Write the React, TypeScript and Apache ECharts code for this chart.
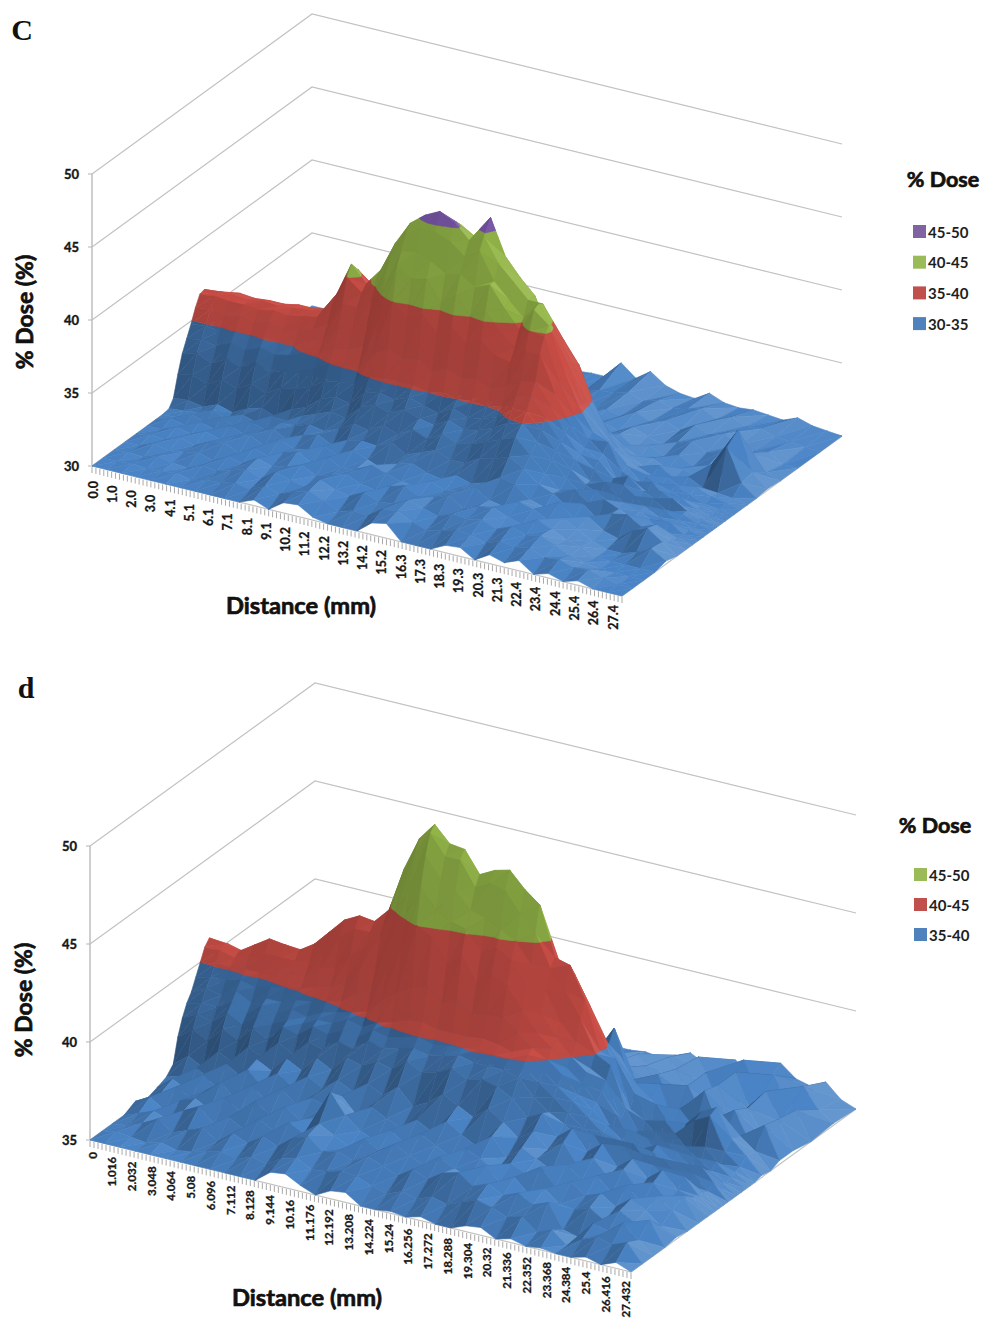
import React, { useEffect, useRef } from "react";
import * as echarts from "echarts";

// Values are tenths of % dose above the floor of each panel. Rows run from the front edge to the back wall.
const depthsC = [0,.05,.1,.15,.2,.25,.29,.32,.35,.37,.39,.41,.43,.45,.47,.49,.51,.54,.57,.61,.66,.72,.8,.9,1];
const surfaceC = [
[0,0,0,0,0,0,0,0,0,0,0,4,0,7,8,2,0,0,0,8,10,0,0,0,5,6,0,6,3,7,0,3,0,3,0,0,0],
[0,0,1,0,1,2,0,2,3,5,3,8,5,9,12,8,3,6,5,12,13,8,5,7,10,9,6,10,8,10,6,7,4,5,2,0,0],
[0,1,0,3,1,0,4,3,6,9,5,12,9,7,14,10,8,13,9,10,15,12,9,13,12,14,10,14,11,13,9,4,2,0,0,0,0],
[0,0,4,1,3,5,2,7,5,11,8,10,14,9,12,15,11,9,14,17,12,14,18,11,15,17,13,10,16,12,7,5,0,0,0,0,0],
[0,2,1,5,2,7,9,4,10,7,12,15,9,16,11,13,18,15,12,11,17,13,16,20,14,12,18,15,10,14,9,3,0,0,3,8,2],
[0,0,4,2,6,3,8,11,6,13,9,11,16,12,18,14,10,16,19,15,13,18,15,18,24,22,14,11,17,8,12,5,2,10,14,7,0],
[0,3,1,6,3,8,5,9,13,8,14,17,12,18,20,19,24,18,22,26,22,22,28,30,34,28,20,16,9,14,6,12,14,8,12,4,0],
[0,1,5,2,8,4,10,7,14,15,18,16,20,26,24,30,26,32,28,34,30,32,36,40,44,34,24,15,18,11,16,12,8,10,3,2,0],
[1,2,3,7,3,9,6,13,12,18,22,26,24,34,38,35,40,36,34,40,36,38,42,48,50,40,30,20,12,17,9,13,10,4,7,1,0],
[6,7,5,9,6,11,14,10,18,22,30,34,32,42,44,42,46,43,40,46,42,44,47,55,56,46,34,24,16,11,14,7,11,6,3,2,0],
[20,22,18,24,20,26,22,28,30,34,40,42,44,50,52,52,52,50,52,50,51,50,52,62,64,52,38,28,16,18,10,13,6,9,4,1,0],
[32,35,30,36,33,38,34,38,40,44,50,52,52,64,70,66,68,62,66,62,64,60,64,70,72,58,42,30,22,12,16,9,12,5,6,2,0],
[40,42,40,44,42,46,44,46,50,52,58,60,64,84,100,92,96,86,92,84,88,80,78,88,88,64,46,32,26,16,20,12,8,12,6,3,0],
[48,49,48,50,49,51,50,50,56,60,70,72,78,102,122,116,118,104,112,100,106,94,86,100,98,70,50,36,28,12,14,9,12,6,4,2,0],
[57,58,56,58,56,59,57,58,62,68,84,84,92,116,130,132,128,122,124,118,122,108,96,112,104,76,54,38,34,16,12,14,6,8,3,1,0],
[64,65,64,64,63,65,64,66,68,78,100,92,104,124,140,146,146,142,134,140,122,112,102,114,100,78,52,38,24,18,9,11,8,4,3,1,0],
[65,66,66,65,67,66,67,68,70,84,107,96,108,129,145,153,158,153,143,148,132,122,112,112,92,76,52,36,25,14,12,7,10,6,2,1,0],
[60,62,64,63,64,64,66,66,68,80,100,92,100,122,136,146,150,148,142,158,134,122,112,90,86,72,48,30,18,12,8,10,5,8,4,2,0],
[22,30,26,36,30,42,38,46,48,56,66,62,74,92,108,112,116,110,106,100,108,90,80,72,62,48,32,20,14,9,12,6,9,4,3,2,0],
[6,8,6,10,8,12,10,12,14,16,22,24,28,40,50,54,52,50,46,42,44,36,30,24,20,16,10,14,8,10,5,8,5,16,30,8,0],
[0,1,2,1,2,2,3,3,4,4,6,8,8,12,16,18,20,18,16,14,16,12,10,12,8,10,14,7,11,6,9,4,7,3,36,10,1],
[0,0,0,0,1,0,1,0,1,2,2,3,3,4,5,6,6,5,6,5,5,6,8,6,10,7,12,8,5,9,12,7,10,6,14,3,0],
[0,0,0,0,0,0,0,0,0,1,0,1,1,1,2,2,2,2,3,2,3,4,5,8,6,11,7,10,6,12,8,11,6,4,6,0,0],
[0,0,0,0,0,0,0,0,0,0,0,0,0,0,1,1,1,1,1,2,2,5,6,9,5,8,5,7,10,5,9,5,6,3,2,1,0],
[0,0,0,0,0,0,0,0,0,0,0,0,0,0,0,0,0,0,0,1,1,13,5,12,5,2,1,7,3,2,3,2,1,5,2,1,0],
];
const depthsD = [0,.05,.1,.15,.2,.25,.3,.34,.37,.39,.41,.43,.45,.47,.49,.51,.53,.55,.58,.62,.66,.72,.8,.9,1];
const surfaceD = [
[0,0,0,0,0,0,0,0,0,0,0,0,6,7,3,0,4,5,0,0,1,0,2,0,0,3,4,0,2,0,1,0,0,2,0,3,0],
[0,2,1,0,2,0,1,3,5,3,6,4,9,11,7,8,10,9,6,4,7,5,8,6,9,12,10,7,9,3,6,0,5,8,6,9,0],
[0,1,4,8,3,6,9,4,10,7,12,9,15,18,12,14,11,15,12,9,14,11,16,18,13,16,12,15,11,14,2,0,9,7,13,6,0],
[0,3,6,3,10,14,7,12,8,15,11,17,13,20,16,12,18,14,19,15,12,18,14,11,19,13,17,10,15,9,8,11,6,13,9,12,0],
[3,7,2,9,12,8,16,11,18,13,19,14,17,32,22,16,13,20,15,22,18,14,20,17,12,18,15,20,12,16,11,14,9,15,11,5,1],
[0,5,10,6,12,18,10,20,14,22,16,21,19,26,18,24,20,17,23,19,26,21,17,24,15,22,18,14,19,13,17,10,16,8,14,9,0],
[2,8,4,14,9,16,22,15,24,19,26,22,28,24,30,26,32,24,28,34,30,26,32,27,21,26,19,24,14,20,12,18,9,15,7,12,0],
[4,6,12,8,18,13,24,20,28,24,32,28,36,34,38,36,42,38,40,44,40,42,40,36,28,32,22,28,18,24,14,20,12,18,10,8,0],
[8,14,10,20,16,26,22,32,28,36,34,40,38,44,42,44,46,44,46,48,46,46,46,44,36,30,26,20,24,14,22,12,16,10,14,6,0],
[20,26,22,30,26,34,30,38,36,42,40,44,42,48,46,48,50,48,49,50,51,50,50,48,42,36,30,24,18,22,12,18,10,14,8,6,0],
[28,32,30,36,32,38,36,40,40,44,44,48,46,50,52,55,56,54,54,54,55,54,52,52,46,40,34,28,22,14,20,12,16,9,12,5,0],
[34,36,36,40,36,42,40,44,42,46,48,50,52,60,66,70,72,66,70,64,66,66,60,54,50,44,36,30,24,18,12,16,10,14,7,8,0],
[38,42,40,44,40,44,44,47,48,50,52,58,62,74,86,100,96,84,90,78,84,80,70,60,54,46,40,32,20,22,14,18,12,8,12,4,0],
[44,46,46,48,46,48,50,51,54,56,60,70,72,88,102,118,108,104,102,92,96,92,80,68,58,50,44,36,26,14,18,10,15,8,6,5,0],
[50,51,51,52,52,53,55,56,62,64,72,78,86,100,116,132,122,118,110,108,104,100,90,78,64,56,44,40,22,18,12,16,9,12,7,3,0],
[56,56,54,57,60,60,60,62,70,78,84,84,92,112,130,142,132,132,120,124,122,112,104,88,78,66,50,46,26,14,18,10,14,8,10,4,0],
[59,58,56,61,66,65,64,69,77,85,89,88,96,119,136,145,137,136,125,129,131,123,117,92,90,74,50,48,24,20,12,17,9,14,7,5,0],
[54,56,54,58,62,62,62,66,72,80,84,84,90,110,126,134,126,126,116,120,122,112,104,88,84,70,52,36,30,16,20,13,24,28,12,6,0],
[30,38,34,42,46,48,44,50,56,62,66,64,70,86,98,104,100,96,90,94,92,84,76,70,64,54,46,36,20,24,14,18,26,30,16,9,1],
[10,14,12,18,20,22,18,24,28,32,36,34,38,48,54,58,56,52,48,50,48,42,38,36,34,38,40,28,22,14,20,12,18,12,14,8,0],
[2,4,3,6,6,8,6,9,10,12,14,14,16,20,24,26,24,22,22,20,20,22,18,20,24,49,24,10,26,8,20,28,10,22,8,18,2],
[0,1,0,2,1,3,2,3,4,5,5,6,7,8,10,10,9,9,8,10,12,8,8,18,6,24,10,24,6,22,8,26,10,18,6,16,2],
[0,0,0,0,0,1,0,1,1,2,2,2,3,3,4,4,4,5,4,6,5,10,4,16,5,18,6,20,7,22,5,26,8,20,6,14,0],
[0,0,0,0,0,0,0,0,0,0,1,1,1,1,2,2,2,2,3,3,4,8,3,12,4,14,4,18,5,16,22,6,18,4,16,6,1],
[0,0,0,0,0,0,0,0,0,0,0,0,0,0,0,1,1,1,1,1,2,2,3,2,5,8,4,6,10,3,7,14,8,6,10,3,0],
];
const distanceLabelsC = ["0.0","1.0","2.0","3.0","4.1","5.1","6.1","7.1","8.1","9.1","10.2","11.2","12.2","13.2","14.2","15.2","16.3","17.3","18.3","19.3","20.3","21.3","22.4","23.4","24.4","25.4","26.4","27.4"];
const distanceLabelsD = ["0","1.016","2.032","3.048","4.064","5.08","6.096","7.112","8.128","9.144","10.16","11.176","12.192","13.208","14.224","15.24","16.256","17.272","18.288","19.304","20.32","21.336","22.352","23.368","24.384","25.4","26.416","27.432"];
const doseTicksC = [30, 35, 40, 45, 50];
const doseTicksD = [35, 40, 45, 50];
const legendC = ["45-50", "40-45", "35-40", "30-35"];
const legendD = ["45-50", "40-45", "35-40"];

const BLUE = "#4a84c6", RED = "#cb4f47", GREEN = "#96b84a", PURPLE = "#7f5bb0";
const FONT = "Lato";
const INK = "#161616";

type Panel = {
  ox: number; oy: number; ax: number; ay: number; bx: number; by: number; zs: number;
  floor: number; depths: number[]; surface: number[][]; labels: string[]; ticks: number[];
  lx0: number; ly0: number; lx1: number; ly1: number; labelSize: number;
};

const panelC: Panel = { ox: 92, oy: 466, ax: 530, ay: 130, bx: 220, by: -160, zs: 14.6, floor: 30, depths: depthsC, surface: surfaceC, labels: distanceLabelsC, ticks: doseTicksC, lx0: 93, ly0: 481, lx1: 613, ly1: 605, labelSize: 12.5 };
const panelD: Panel = { ox: 90, oy: 1140, ax: 541, ay: 132, bx: 225, by: -163, zs: 19.6, floor: 35, depths: depthsD, surface: surfaceD, labels: distanceLabelsD, ticks: doseTicksD, lx0: 92, ly0: 1152, lx1: 625, ly1: 1281, labelSize: 11.6 };

const project = (p: Panel, a: number, b: number, dz: number) => [p.ox + p.ax * a + p.bx * b, p.oy + p.ay * a + p.by * b - p.zs * dz];

const light = [0.6, 0.2, 0.77];
const bands = [
  { lo: 0, hi: 5, color: BLUE, k: 1 },
  { lo: 5, hi: 10, color: RED, k: 0.55 },
  { lo: 10, hi: 15, color: GREEN, k: 0.55 },
  { lo: 15, hi: 99, color: PURPLE, k: 0.5 },
];

function shadeColor(hex: string, f: number) {
  const c = [1, 3, 5].map((s) => parseInt(hex.slice(s, s + 2), 16));
  const out = c.map((v) => (f <= 1 ? v * f : v + (255 - v) * (f - 1) * 1.6));
  return `rgb(${out.map((v) => Math.round(Math.max(0, Math.min(255, v)))).join(",")})`;
}

type V = [number, number, number];
function clip(poly: V[], limit: number, keepBelow: boolean): V[] {
  const out: V[] = [];
  const inside = (v: V) => (keepBelow ? v[2] <= limit : v[2] >= limit);
  for (let n = 0; n < poly.length; n++) {
    const s = poly[n], e = poly[(n + 1) % poly.length];
    const si = inside(s), ei = inside(e);
    if (si) out.push(s);
    if (si !== ei) {
      const t = (limit - s[2]) / (e[2] - s[2]);
      out.push([s[0] + (e[0] - s[0]) * t, s[1] + (e[1] - s[1]) * t, limit]);
    }
  }
  return out;
}

function triangleShapes(p: Panel, tri: V[], api: any) {
  const w = tri.map((v) => [v[0] * 540, v[1] * 275, v[2] * p.zs]);
  const u = [w[1][0] - w[0][0], w[1][1] - w[0][1], w[1][2] - w[0][2]];
  const t = [w[2][0] - w[0][0], w[2][1] - w[0][1], w[2][2] - w[0][2]];
  let n = [u[1] * t[2] - u[2] * t[1], u[2] * t[0] - u[0] * t[2], u[0] * t[1] - u[1] * t[0]];
  const len = Math.hypot(n[0], n[1], n[2]) || 1;
  n = n.map((c) => c / len);
  if (n[2] < 0) n = n.map((c) => -c);
  const dot = n[0] * light[0] + n[1] * light[1] + n[2] * light[2];
  const f = Math.max(0.52, 0.66 + 0.44 * dot);
  const out: any[] = [];
  for (const band of bands) {
    let poly = clip(tri, band.lo, false);
    if (poly.length) poly = clip(poly, band.hi, true);
    if (poly.length < 3) continue;
    const fill = shadeColor(band.color, 1 + band.k * (f - 1));
    out.push({
      type: "polygon",
      shape: { points: poly.map((v) => api.coord(project(p, v[0], v[1], v[2]))) },
      style: { fill, stroke: fill, lineWidth: 0.6 },
    });
  }
  return out;
}

function surfaceSeries(p: Panel) {
  const cols = p.surface[0].length;
  const data: number[][] = [];
  for (let j = p.depths.length - 2; j >= 0; j--) for (let i = 0; i < cols - 1; i++) data.push([i, j]);
  const v = (i: number, j: number): V => [i / (cols - 1), p.depths[j], p.surface[j][i] / 10];
  return {
    type: "custom", coordinateSystem: "cartesian2d", silent: true, clip: false, data, z: 3,
    renderItem: (_: any, api: any) => {
      const i = api.value(0), j = api.value(1);
      const a = v(i, j), b = v(i + 1, j), c = v(i + 1, j + 1), d = v(i, j + 1);
      return { type: "group", children: [...triangleShapes(p, [a, c, d], api), ...triangleShapes(p, [a, b, c], api)] };
    },
  };
}

function frameSeries(p: Panel) {
  const top = p.ticks[p.ticks.length - 1] - p.floor;
  return {
    type: "custom", coordinateSystem: "cartesian2d", silent: true, clip: false, z: 2,
    data: p.ticks.map((t, n) => [n, t]),
    renderItem: (_: any, api: any) => {
      const t = p.ticks[api.value(0)];
      const dz = t - p.floor;
      const pts = [project(p, 0, 0, dz), project(p, 0, 1, dz), project(p, 1, 1, dz)];
      const o = project(p, 0, 0, dz);
      const children: any[] = [
        { type: "polyline", shape: { points: pts.map((q) => api.coord(q)) }, style: { fill: "none", stroke: "#c2c2c2", lineWidth: 1.2 } },
        { type: "line", shape: { x1: o[0] - 4, y1: o[1], x2: o[0], y2: o[1] }, style: { stroke: "#b5b5b5", lineWidth: 1 } },
        { type: "text", x: o[0] - 13, y: o[1], style: { text: String(t), textAlign: "right", textVerticalAlign: "middle", fontFamily: FONT, fontWeight: "bold", fontSize: 13, fill: INK, stroke: INK, lineWidth: 0.35 } },
      ];
      if (t === p.floor) {
        const v0 = project(p, 0, 0, 0), v1 = project(p, 0, 0, top);
        children.push({ type: "line", shape: { x1: v0[0], y1: v0[1], x2: v1[0], y2: v1[1] }, style: { stroke: "#c2c2c2", lineWidth: 1.6 } });
        const e0 = project(p, 0, 0, 0), e1 = project(p, 1, 0, 0), e2 = project(p, 1, 1, 0);
        children.push({ type: "polyline", shape: { points: [e0, e1, e2] }, style: { fill: "none", stroke: "#c2c2c2", lineWidth: 1.2 } });
      }
      return { type: "group", children };
    },
  };
}

function axisSeries(p: Panel) {
  const perLabel = 5;
  const steps = (p.labels.length - 1) * perLabel;
  const data: number[][] = [];
  for (let n = 0; n <= steps; n++) data.push([n, 0]);
  return {
    type: "custom", coordinateSystem: "cartesian2d", silent: true, clip: false, z: 4, data,
    renderItem: (_: any, api: any) => {
      const n = api.value(0);
      const q = project(p, n / steps, 0, 0);
      const children: any[] = [{ type: "line", shape: { x1: q[0], y1: q[1] + 1, x2: q[0], y2: q[1] + 7 }, style: { stroke: "#a8a8a8", lineWidth: 1 } }];
      if (n % perLabel === 0) {
        const f = n / steps;
        children.push({
          type: "text", x: p.lx0 + (p.lx1 - p.lx0) * f, y: p.ly0 + (p.ly1 - p.ly0) * f, rotation: Math.PI / 2,
          style: { text: p.labels[n / perLabel], textAlign: "right", textVerticalAlign: "middle", fontFamily: FONT, fontWeight: "bold", fontSize: p.labelSize, fill: INK, stroke: INK, lineWidth: 0.3 },
        });
      }
      return { type: "group", children };
    },
  };
}

const bigText = (text: string, x: number, y: number, size: number, rotation = 0, family = FONT, heavy = 0.7) => ({
  type: "text", x, y, rotation,
  style: { text, textAlign: "center", textVerticalAlign: "middle", fontFamily: family, fontWeight: "bold", fontSize: size, fill: "#111", stroke: "#111", lineWidth: heavy },
});

const legendItem = (name: string, color: string) => ({ name, icon: "rect", itemStyle: { color, opacity: 1 } });
const legendBase = {
  orient: "vertical", itemWidth: 13, itemHeight: 13, selectedMode: false, padding: 0,
  textStyle: { fontFamily: FONT, fontWeight: "bold", fontSize: 15, color: "#1e1e1e", padding: [0, 0, 0, -3] },
};

const option: any = {
  animation: false,
  backgroundColor: "#fff",
  grid: { left: 0, top: 0, right: 0, bottom: 0 },
  xAxis: { type: "value", min: 0, max: 982, show: false },
  yAxis: { type: "value", min: 0, max: 1320, inverse: true, show: false },
  legend: [
    { ...legendBase, left: 913, top: 224, itemGap: 15.7, data: [legendItem(legendC[0], "#8064a2"), legendItem(legendC[1], "#9bbb59"), legendItem(legendC[2], "#c0504d"), legendItem(legendC[3], "#4f81bd")] },
    { ...legendBase, left: 914, top: 867, itemGap: 15, data: [legendItem(legendD[0], "#9bbb59"), legendItem(legendD[1], "#c0504d"), legendItem(legendD[2], "#4f81bd")] },
  ],
  graphic: [
    bigText("C", 22, 29, 30, 0, "Liberation Serif", 0),
    bigText("d", 26, 687, 30, 0, "Liberation Serif", 0),
    bigText("% Dose (%)", 24, 312, 23, Math.PI / 2),
    bigText("% Dose (%)", 23, 1000, 23, Math.PI / 2),
    bigText("Distance (mm)", 301, 605, 23.7),
    bigText("Distance (mm)", 307, 1297, 23.7),
    bigText("% Dose", 943, 179, 21.5),
    bigText("% Dose", 935, 825, 21.5),
  ],
  series: [
    frameSeries(panelC), surfaceSeries(panelC), axisSeries(panelC),
    frameSeries(panelD), surfaceSeries(panelD), axisSeries(panelD),
    ...["45-50", "40-45", "35-40", "30-35"].map((name) => ({ type: "scatter", name, data: [] })),
  ],
};

export default function App() {
  const ref = useRef<HTMLDivElement>(null);
  useEffect(() => {
    const chart = echarts.init(ref.current!, undefined, { renderer: "svg" });
    chart.setOption(option);
    return () => chart.dispose();
  }, []);
  return <div ref={ref} style={{ position: "absolute", left: 0, top: 0, width: 982, height: 1320 }} />;
}
